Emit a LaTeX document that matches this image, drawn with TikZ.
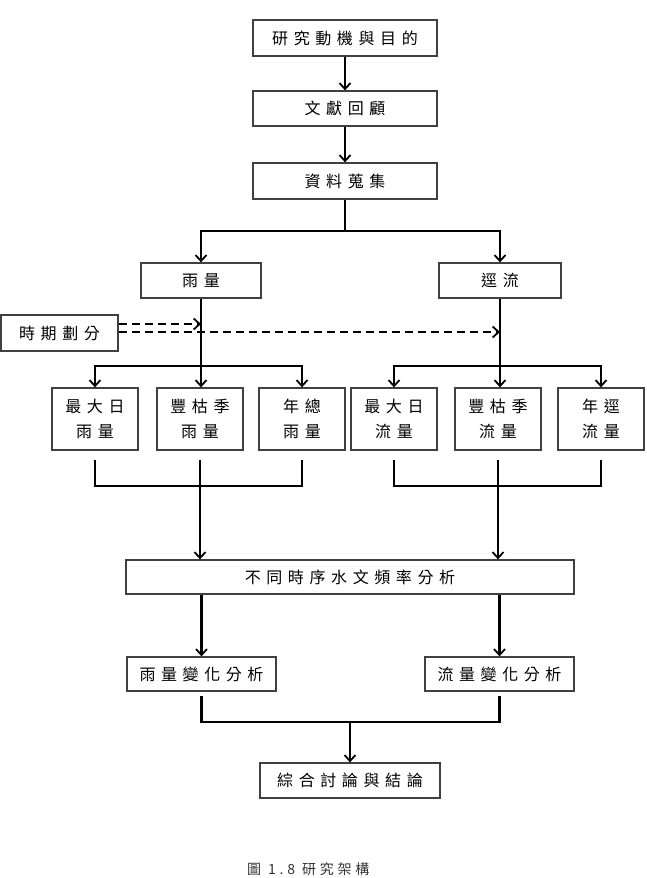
\documentclass[tikz,border=0pt]{standalone}
\usepackage{fontspec}
\usetikzlibrary{arrows.meta,calc}
\newfontfamily\cjk[LetterSpace=35]{Noto Sans CJK TC}
\newfontfamily\cjkcap[LetterSpace=27]{Noto Sans CJK TC}

\tikzset{
  box/.style={draw=black!75, line width=1.3pt, fill=white, inner sep=0pt,
    align=center, font=\cjk\fontsize{16}{25}\selectfont},
  conn/.style={line width=2.3pt, black},
  arr/.style={conn, -{Straight Barb[length=6pt,width=11pt,line width=1.8pt]}},
  dasharr/.style={arr, dash pattern=on 8pt off 5pt},
}

\begin{document}
\begin{tikzpicture}[x=1pt,y=-1pt]
  \fill[white] (0,0) rectangle (646,878);
  \useasboundingbox (0,0) rectangle (646,878);

  % main chain
  \node[box, minimum width=184pt, minimum height=36pt] (motive) at (345,38)  {研究動機與目的};
  \node[box, minimum width=184pt, minimum height=35pt] (lit)    at (345,108.5) {文獻回顧};
  \node[box, minimum width=184pt, minimum height=36pt] (data)   at (345,181) {資料蒐集};

  % two data branches
  \node[box, minimum width=120pt, minimum height=35pt] (rain)   at (201,280.5) {雨量};
  \node[box, minimum width=122pt, minimum height=35pt] (runoff) at (500,280.5) {逕流};
  \node[box, minimum width=117pt, minimum height=36pt] (period) at (59.5,333) {時期劃分};

  % indicators
  \node[box, minimum width=86pt, minimum height=62pt] (b1) at (95,419)  {最大日\\雨量};
  \node[box, minimum width=86pt, minimum height=62pt] (b2) at (200,419) {豐枯季\\雨量};
  \node[box, minimum width=86pt, minimum height=62pt] (b3) at (302,419) {年總\\雨量};
  \node[box, minimum width=86pt, minimum height=62pt] (b4) at (394,419) {最大日\\流量};
  \node[box, minimum width=86pt, minimum height=62pt] (b5) at (498,419) {豐枯季\\流量};
  \node[box, minimum width=86pt, minimum height=62pt] (b6) at (601,419) {年逕\\流量};

  % analysis
  \node[box, minimum width=448pt, minimum height=34pt] (freq)    at (350,577)   {不同時序水文頻率分析};
  \node[box, minimum width=149pt, minimum height=34pt] (rainchg) at (201.5,674) {雨量變化分析};
  \node[box, minimum width=149pt, minimum height=34pt] (flowchg) at (499.5,674) {流量變化分析};
  \node[box, minimum width=180pt, minimum height=35pt] (final)   at (350,780.5) {綜合討論與結論};

  \node[anchor=base west, inner sep=0pt, text=black!80,
        font=\cjkcap\fontsize{14}{14}\selectfont] (cap) at (247,874.5) {圖 1.8 研究架構};

  % connectors
  \draw[arr] (motive.south) -- (lit.north);
  \draw[arr] (lit.south) -- (data.north);
  \coordinate (split) at (345,231);
  \draw[conn] (data.south) -- (split);
  \draw[arr] (split) -| (rain.north);
  \draw[arr] (split) -| (runoff.north);

  \coordinate (rsplit) at (rain.south |- 0,366);
  \coordinate (fsplit) at (runoff.south |- 0,366);
  \draw[arr] (rain.south) -- (rain.south |- b2.north);
  \draw[arr] (rsplit) -| (b1.north);
  \draw[arr] (rsplit) -| (b3.north);
  \draw[arr] (runoff.south) -- (runoff.south |- b5.north);
  \draw[arr] (fsplit) -| (b4.north);
  \draw[arr] (fsplit) -| (b6.north);

  \draw[dasharr] ($(period.east)+(0,-9)$) -- (rain.south |- 0,324);
  \draw[dasharr] ($(period.east)+(0,-1)$) -- (runoff.south |- 0,332);

  \draw[conn] ([yshift=-9pt]b1.south) -- ++(0,26) -| ([yshift=-9pt]b3.south);
  \draw[arr] ([yshift=-9pt]b2.south) -- (b2.south |- freq.north);
  \draw[conn] ([yshift=-9pt]b4.south) -- ++(0,26) -| ([yshift=-9pt]b6.south);
  \draw[arr] ([yshift=-9pt]b5.south) -- (b5.south |- freq.north);

  \draw[arr] (rainchg.north |- freq.south) -- (rainchg.north);
  \draw[arr] (flowchg.north |- freq.south) -- (flowchg.north);

  \draw[conn] ([yshift=-4pt]rainchg.south) -- ++(0,26) -| ([yshift=-4pt]flowchg.south);
  \draw[arr] (final.north |- 0,721) -- (final.north);
\end{tikzpicture}
\end{document}
